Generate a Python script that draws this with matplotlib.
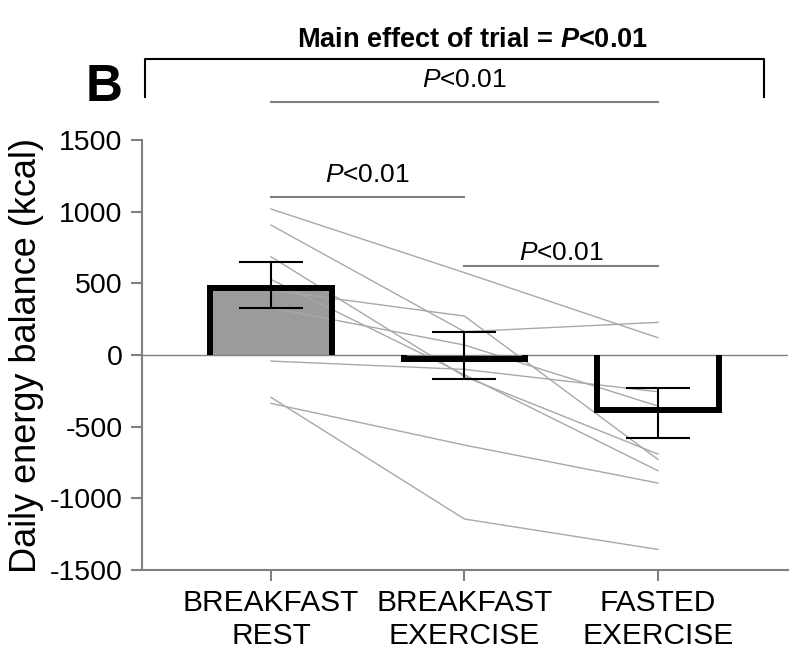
import matplotlib
matplotlib.use("Agg")
import matplotlib.pyplot as plt

plt.rcParams['font.family'] = ['Liberation Sans', 'DejaVu Sans']
plt.rcParams['mathtext.fontset'] = 'custom'
plt.rcParams['mathtext.it'] = 'Liberation Sans:italic'
plt.rcParams['mathtext.bfit'] = 'Liberation Sans:italic:bold'
plt.rcParams['mathtext.rm'] = 'Liberation Sans'

# trials
trials = ['BREAKFAST\nREST', 'BREAKFAST\nEXERCISE', 'FASTED\nEXERCISE']
means = [465, -25, -385]
err_low = [328, -167, -579]
err_high = [649, 160, -230]
fills = ['#9b9b9b', 'white', 'white']

# individual participants (kcal) per trial
rest = [1019, 907, 686, 528, 453, 330, -42, -337, -295]
bex = [575, 163, -150, -137, 272, 70, -100, -628, -1144]
fex = [121, 228, -691, -807, -728, -356, -256, -893, -1356]

# pairwise comparisons: (trial a, trial b, height kcal, text gap kcal, label)
pairs = [(0, 2, 1766, 105, r'$\it{P}$<0.01'),
         (0, 1, 1103, 105, r'$\it{P}$<0.01'),
         (1, 2, 621, 42, r'$\it{P}$<0.01')]

yticks = [-1500, -1000, -500, 0, 500, 1000, 1500]

GREY = '#808080'

fig = plt.figure(figsize=(7.93, 6.5), dpi=100)
ax = fig.add_axes([0.179, 0.123, 0.8146, 0.6615])

xs = list(range(len(trials)))
w = 0.63

ax.bar(xs, means, width=w, color=fills, edgecolor='none', zorder=1)

for a, b, c in zip(rest, bex, fex):
    ax.plot(xs, [a, b, c], color='#a8a8a8', lw=1.0, zorder=2)

ax.axhline(0, color=GREY, lw=1.0, zorder=2.5)

# bar outlines without baseline edge
for x, m in zip(xs, means):
    ax.plot([x - w / 2, x - w / 2, x + w / 2, x + w / 2], [0, m, m, 0],
            color='black', lw=4.3, solid_joinstyle='miter', solid_capstyle='butt',
            zorder=3)

yerr = [[m - lo for m, lo in zip(means, err_low)],
        [hi - m for m, hi in zip(means, err_high)]]
ax.errorbar(xs, means, yerr=yerr, fmt='none', ecolor='black', elinewidth=1.5,
            capsize=23, capthick=1.5, zorder=4)

ax.set_xlim(-0.667, 2.672)
ax.set_ylim(-1500, 1500)
ax.set_yticks(yticks)
ax.set_yticklabels([str(v) for v in yticks])
ax.set_xticks(xs)
ax.set_xticklabels(trials)
ax.tick_params(axis='both', direction='out', length=8, width=1.5, color=GREY,
               labelsize=20.5, pad=6)
ax.tick_params(axis='x', labelsize=21.5)
for s in ['top', 'right']:
    ax.spines[s].set_visible(False)
for s in ['left', 'bottom']:
    ax.spines[s].set_color(GREY)
    ax.spines[s].set_linewidth(1.5)
ax.set_ylabel('Daily energy balance (kcal)', fontsize=26, labelpad=4)

# comparison lines
for a, b, h, gap, lab in pairs:
    ax.plot([a, b], [h, h], color=GREY, lw=1.5, clip_on=False)
    ax.text((a + b) / 2, h + gap, lab, ha='center', va='baseline', fontsize=19,
            clip_on=False)

# main effect bracket
ax.plot([-0.651, -0.651, 2.548, 2.548], [1800, 2066, 2066, 1800],
        color='black', lw=1.5, clip_on=False)
ax.text(1.044, 2149, r'Main effect of trial = $\mathbfit{P}$<0.01', ha='center',
        va='baseline', fontsize=19.5, fontweight='bold')
ax.text(-0.863, 1772, 'B', ha='center', va='baseline', fontsize=37,
        fontweight='bold')

fig.savefig('out.png', dpi=100)
